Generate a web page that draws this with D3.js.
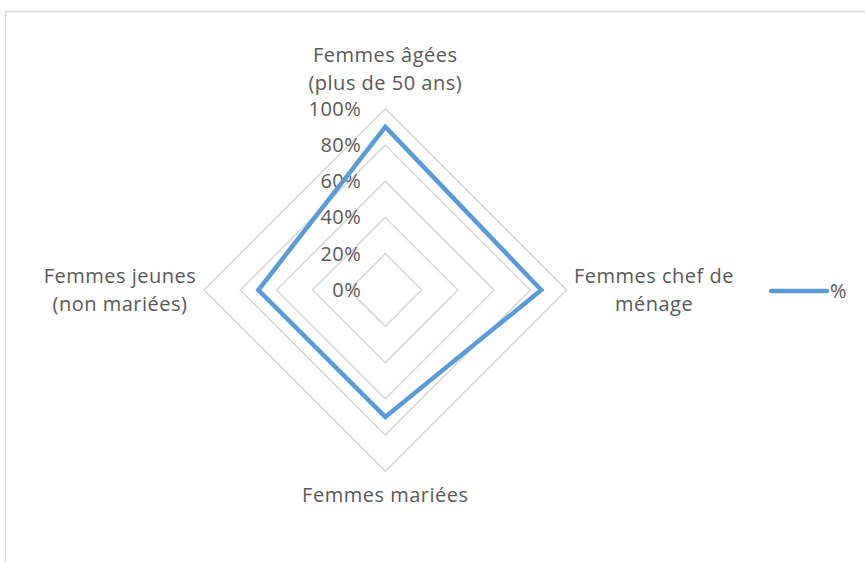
<!DOCTYPE html>
<html>
<head>
<meta charset="utf-8">
<script src="https://cdn.jsdelivr.net/npm/d3@7"></script>
<style>
  body { margin: 0; background: #fff; }
  svg { display: block; }
  text { font-family: "Open Sans", sans-serif; fill: #595959; letter-spacing: 0.5px; }
</style>
</head>
<body>
<div id="chart"></div>
<script>
// ===== data =====
const axes = [
  ["Femmes âgées", "(plus de 50 ans)"],
  ["Femmes chef de", "ménage"],
  ["Femmes mariées"],
  ["Femmes jeunes", "(non mariées)"]
];
const values = [0.90, 0.86, 0.70, 0.70];
const ticks = [0, 0.2, 0.4, 0.6, 0.8, 1.0];
const seriesName = "%";

const width = 865, height = 562;
const cx = 385.3, cy = 290, radius = 181.3;

const svg = d3.select('#chart').append('svg')
  .attr('width', width)
  .attr('height', height);

// chart border
svg.append('rect')
  .attr('x', 5.5).attr('y', 11.5)
  .attr('width', width + 10).attr('height', height + 10)
  .attr('fill', 'none')
  .attr('stroke', '#d9d9d9')
  .attr('stroke-width', 1.5);

const r = d3.scaleLinear().domain([0, 1]).range([0, radius]);
const angle = i => (i / axes.length) * 2 * Math.PI;
const pt = (i, v) => [cx + r(v) * Math.sin(angle(i)), cy - r(v) * Math.cos(angle(i))];

const g = svg.append('g');

// grid rings
ticks.forEach(t => {
  g.append('path')
    .attr('d', d3.line()(axes.map((a, i) => pt(i, t))) + 'Z')
    .attr('fill', 'none')
    .attr('stroke', '#d9d9d9')
    .attr('stroke-width', 1.6);
});

// tick labels
g.selectAll('.tick')
  .data(ticks)
  .enter().append('text')
  .attr('class', 'tick')
  .attr('x', cx - 24)
  .attr('y', d => cy - r(d))
  .attr('dy', '0.35em')
  .attr('text-anchor', 'end')
  .attr('font-size', '20px')
  .text(d => d3.format('.0%')(d));

// series
g.append('path')
  .attr('d', d3.line()(values.map((v, i) => pt(i, v))) + 'Z')
  .attr('fill', 'none')
  .attr('stroke', '#5b9bd5')
  .attr('stroke-width', 4.5)
  .attr('stroke-linejoin', 'miter');

// axis labels
const labelPos = [
  { x: cx, y: 62, anchor: 'middle' },
  { x: 654, y: 283, anchor: 'middle' },
  { x: cx, y: 502, anchor: 'middle' },
  { x: 120, y: 283, anchor: 'middle' }
];
axes.forEach((lines, i) => {
  const p = labelPos[i];
  const t = g.append('text')
    .attr('x', p.x)
    .attr('y', p.y)
    .attr('text-anchor', p.anchor)
    .attr('font-size', '20px');
  lines.forEach((line, k) => {
    t.append('tspan')
      .attr('x', p.x)
      .attr('dy', k === 0 ? 0 : 28)
      .text(line);
  });
});

// legend
const legend = svg.append('g').attr('transform', 'translate(771,291)');
legend.append('line')
  .attr('x1', 0).attr('x2', 56)
  .attr('stroke', '#5b9bd5')
  .attr('stroke-width', 4.5)
  .attr('stroke-linecap', 'round');
legend.append('text')
  .attr('x', 59)
  .attr('dy', '0.35em')
  .attr('font-size', '20px')
  .text(seriesName);
</script>
</body>
</html>
